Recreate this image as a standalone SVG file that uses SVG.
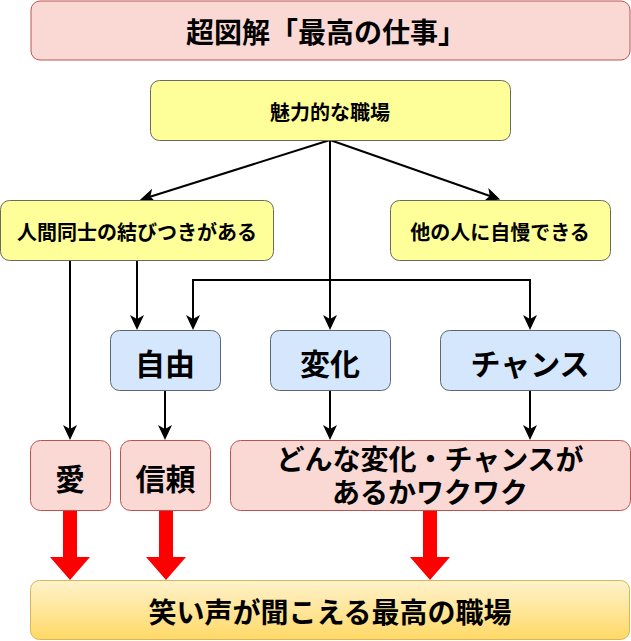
<svg xmlns="http://www.w3.org/2000/svg" width="631" height="641" viewBox="0 0 631 641">
<defs>
<style>
text{font-family:"Noto Sans CJK JP","Noto Sans",sans-serif;font-weight:bold;fill:#000;text-anchor:middle;dominant-baseline:central}
.pink{fill:#fad9d5;stroke:#b85450;stroke-width:1}
.yel{fill:#ffff99;stroke:#6b6b5c;stroke-width:1}
.blue{fill:#d4e7fc;stroke:#5e6670;stroke-width:1}
.gold{fill:url(#g);stroke:#d6b656;stroke-width:1}
.c{fill:none;stroke:#000;stroke-width:2;marker-end:url(#ah)}
.red{fill:#ff0000;stroke:none}
.f20{font-size:20px}
.f28{font-size:28px}
.f30{font-size:30px}
text.two{font-family:"Liberation Sans","Noto Sans CJK JP",sans-serif;dominant-baseline:auto}
</style>
<linearGradient id="g" x1="0" y1="0" x2="0" y2="1">
<stop offset="0" stop-color="#fff2cc"/>
<stop offset="1" stop-color="#ffd966"/>
</linearGradient>
<marker id="ah" markerUnits="userSpaceOnUse" markerWidth="16" markerHeight="16" refX="11" refY="7" orient="auto">
<path d="M0,0 L15,7 L0,14 L4,7 z" fill="#000"/>
</marker>
</defs>
<g id="connectors">
<path class="c" d="M330,140 L143.7,198.8"/>
<path class="c" d="M330,140 L496.4,198.2"/>
<path class="c" d="M330,140 L330,326"/>
<path class="c" d="M330,280 L193,280 L193,326"/>
<path class="c" d="M330,280 L530,280 L530,326"/>
<path class="c" d="M70,260 L70,436"/>
<path class="c" d="M137,260 L137,326"/>
<path class="c" d="M165,390 L165,436"/>
<path class="c" d="M330,390 L330,436"/>
<path class="c" d="M530,390 L530,436"/>
<polygon class="red" points="63,511 77,511 77,557 90,557 70,580 50,557 63,557"/>
<polygon class="red" points="159,511 173,511 173,557 186,557 166,580 146,557 159,557"/>
<polygon class="red" points="423,511 437,511 437,557 450,557 430,580 410,557 423,557"/>
</g>
<g id="title"><rect class="pink" x="31" y="1" width="599" height="59" rx="9"/><text class="f28" x="326" y="31">超図解「最高の仕事」</text></g>
<g id="miryoku"><rect class="yel" x="150.5" y="80.5" width="360" height="60" rx="9"/><text class="f20" x="330" y="111">魅力的な職場</text></g>
<g id="ningen"><rect class="yel" x="0.5" y="200.5" width="273" height="60" rx="9"/><text class="f20" x="137" y="231">人間同士の結びつきがある</text></g>
<g id="jiman"><rect class="yel" x="390.5" y="200.5" width="220" height="60" rx="9"/><text class="f20" x="500" y="231">他の人に自慢できる</text></g>
<g id="jiyu"><rect class="blue" x="110.5" y="330.5" width="110" height="60" rx="9"/><text class="f30" x="165" y="362">自由</text></g>
<g id="henka"><rect class="blue" x="270.5" y="330.5" width="120" height="60" rx="9"/><text class="f30" x="330" y="362">変化</text></g>
<g id="chance"><rect class="blue" x="440.5" y="330.5" width="180" height="60" rx="9"/><text class="f30" x="530" y="362">チャンス</text></g>
<g id="ai"><rect class="pink" x="30.5" y="440.5" width="80" height="70" rx="10"/><text class="f30" x="70" y="477">愛</text></g>
<g id="shinrai"><rect class="pink" x="120.5" y="440.5" width="90" height="70" rx="10"/><text class="f30" x="165.5" y="477">信頼</text></g>
<g id="wakuwaku"><rect class="pink" x="230.5" y="440.5" width="400" height="70" rx="10"/><text class="f28 two" x="430" y="470"><tspan x="430" y="470">どんな変化・チャンスが</tspan><tspan x="430" y="503">あるかワクワク</tspan></text></g>
<g id="warai"><rect class="gold" x="30.5" y="580.5" width="599" height="59" rx="9"/><text class="f28" x="330" y="611">笑い声が聞こえる最高の職場</text></g>
</svg>
